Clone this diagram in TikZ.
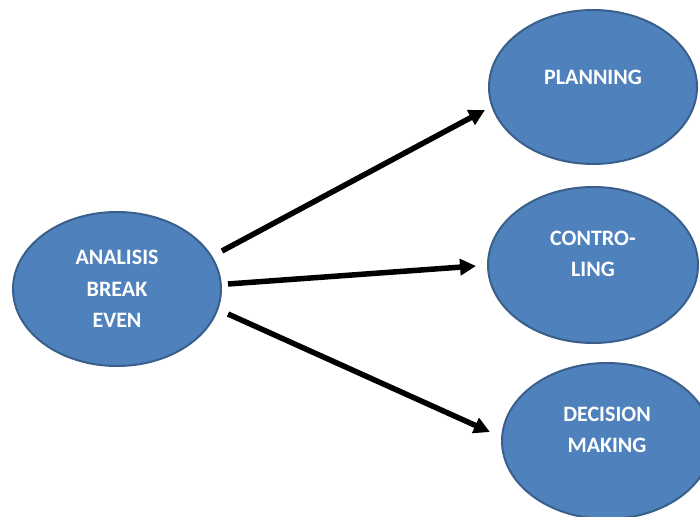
\documentclass[tikz,border=0pt]{standalone}
\usepackage{fontspec}
\setmainfont{Carlito}[BoldFont={Carlito Bold}]
\usetikzlibrary{shapes.geometric,arrows.meta,calc}
\definecolor{fillblue}{HTML}{4F81BD}
\definecolor{edgeblue}{HTML}{3A5F8B}
\begin{document}
\begin{tikzpicture}[x=1pt,y=1pt,
  oval/.style={ellipse,draw=edgeblue,line width=2pt,fill=fillblue,inner sep=0pt,
    minimum width=208pt,minimum height=154pt,text=white,align=center,
    font=\bfseries\fontsize{22}{31.5}\selectfont},
  arr/.style={line width=5.5pt,-{Triangle[length=16pt,width=16pt]}}]
\useasboundingbox (0,0) rectangle (700,516);
\node[oval] (a) at (117,227) {ANALISIS\\BREAK\\EVEN};
\node[oval] (p) at (593,429) {PLANNING\\[-12pt]\mbox{}};
\node[oval,minimum width=210pt,minimum height=156pt] (c) at (593,251) {CONTRO-\\LING\\[-9pt]\mbox{}};
\node[oval,minimum width=210pt,minimum height=156pt] (d) at (607,75) {DECISION\\MAKING\\[-9pt]\mbox{}};
\draw[arr] ([shift={(105,38)}]a.center) -- ([shift={(-108,-23)}]p.center);
\draw[arr] ([shift={(111,5)}]a.center) -- ([shift={(-117,-1)}]c.center);
\draw[arr] ([shift={(111,-25)}]a.center) -- ([shift={(-117,9)}]d.center);
\end{tikzpicture}
\end{document}
